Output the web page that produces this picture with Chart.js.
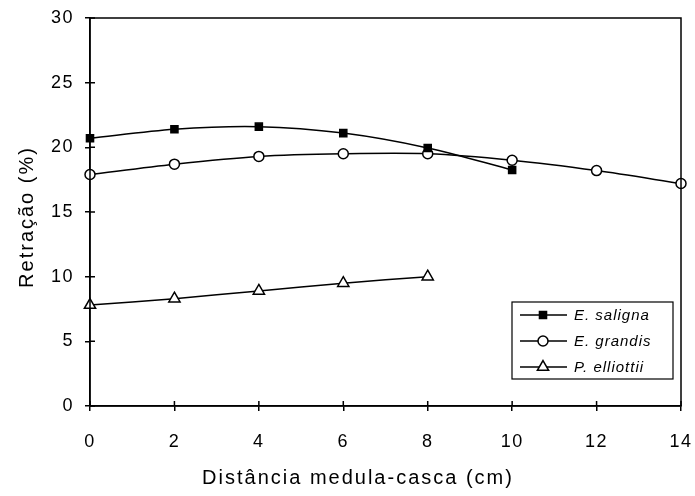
<!DOCTYPE html>
<html>
<head>
<meta charset="utf-8">
<script src="https://cdn.jsdelivr.net/npm/chart.js@4/dist/chart.umd.min.js"></script>
<style>
  html, body { margin: 0; padding: 0; background: #fff; }
  #wrap { width: 695px; height: 496px; }
</style>
</head>
<body>
<div id="wrap"><canvas id="myChart" width="695" height="496"></canvas></div>
<script>
// Data
const seriesNames = ['E. saligna', 'E. grandis', 'P. elliottii'];
const salignaX = [0, 2, 4, 6, 8, 10];
const salignaY = [20.7, 21.4, 21.6, 21.1, 19.95, 18.25];
const grandisX = [0, 2, 4, 6, 8, 10, 12, 14];
const grandisY = [17.9, 18.7, 19.3, 19.5, 19.5, 19.0, 18.2, 17.2];
const elliottiiX = [0, 2, 4, 6, 8];
const elliottiiY = [7.8, 8.3, 8.9, 9.5, 10.0];

const xTicks = [0, 2, 4, 6, 8, 10, 12, 14];
const yTicks = [0, 5, 10, 15, 20, 25, 30];
const xTitle = 'Distância medula-casca (cm)';
const yTitle = 'Retração (%)';

function toPoints(xs, ys) {
    return xs.map(function (x, i) { return { x: x, y: ys[i] }; });
}

const FONT = 'Arial, "Liberation Sans", sans-serif';

// inward tick marks, plot box, axis titles and the boxed legend
const framePlugin = {
    id: 'frame',
    beforeDraw: function (chart) {
        // the original text is a little spread out
        chart.ctx.letterSpacing = '1.5px';
    },
    afterDraw: function (chart) {
        const ctx = chart.ctx;
        const a = chart.chartArea;
        const xs = chart.scales.x;
        const ys = chart.scales.y;
        ctx.save();
        ctx.strokeStyle = '#000';
        ctx.lineWidth = 1.5;
        // box
        ctx.strokeRect(a.left, a.top, a.right - a.left, a.bottom - a.top);
        // inner ticks
        ctx.beginPath();
        xTicks.forEach(function (v) {
            const px = xs.getPixelForValue(v);
            ctx.moveTo(px, a.bottom);
            ctx.lineTo(px, a.bottom - 5);
        });
        yTicks.forEach(function (v) {
            const py = ys.getPixelForValue(v);
            ctx.moveTo(a.left, py);
            ctx.lineTo(a.left + 5, py);
        });
        ctx.stroke();

        // axis titles (centred on the whole figure like the original)
        ctx.fillStyle = '#000';
        ctx.font = '20px ' + FONT;
        ctx.letterSpacing = '2px';
        ctx.textAlign = 'center';
        ctx.textBaseline = 'middle';
        ctx.fillText(xTitle, 358, 478);
        ctx.save();
        ctx.translate(27, 217);
        ctx.rotate(-Math.PI / 2);
        ctx.fillText(yTitle, 0, 0);
        ctx.restore();

        // legend
        const lx = 512, ly = 302, lw = 161, lh = 77;
        ctx.fillStyle = '#fff';
        ctx.fillRect(lx, ly, lw, lh);
        ctx.lineWidth = 1.2;
        ctx.strokeRect(lx, ly, lw, lh);
        const rows = [315, 341, 367];
        chart.data.datasets.forEach(function (ds, i) {
            const y = rows[i];
            ctx.lineWidth = 1.5;
            ctx.strokeStyle = '#000';
            ctx.beginPath();
            ctx.moveTo(520, y);
            ctx.lineTo(567, y);
            ctx.stroke();
            ctx.fillStyle = ds.pointBackgroundColor;
            Chart.helpers.drawPoint(ctx, {
                pointStyle: ds.pointStyle,
                radius: ds.pointRadius,
                borderWidth: ds.pointBorderWidth
            }, 543, y);
            ctx.fillStyle = '#000';
            ctx.letterSpacing = '1px';
            ctx.font = 'italic 15px ' + FONT;
            ctx.textBaseline = 'middle';
            ctx.textAlign = 'left';
            ctx.fillText(ds.label, 574, y + 1);
        });
        ctx.restore();
    }
};

function makeSet(label, xs, ys, style, fill, radius) {
    return {
        label: label,
        data: toPoints(xs, ys),
        showLine: true,
        borderColor: '#000',
        borderWidth: 1.5,
        tension: 0.3,
        pointStyle: style,
        pointRadius: radius,
        pointHoverRadius: radius,
        pointBackgroundColor: fill,
        pointBorderColor: '#000',
        pointBorderWidth: 1.5,
        clip: false
    };
}

const ctx = document.getElementById('myChart').getContext('2d');
new Chart(ctx, {
    type: 'scatter',
    data: {
        datasets: [
            makeSet(seriesNames[0], salignaX, salignaY, 'rect', '#000', 5),
            makeSet(seriesNames[1], grandisX, grandisY, 'circle', '#fff', 5),
            makeSet(seriesNames[2], elliottiiX, elliottiiY, 'triangle', '#fff', 6.5)
        ]
    },
    options: {
        responsive: false,
        animation: false,
        layout: { padding: { top: 18, right: 14, left: 0, bottom: 0 } },
        plugins: {
            legend: { display: false },
            tooltip: { enabled: false }
        },
        scales: {
            x: {
                type: 'linear',
                min: 0,
                max: 14,
                afterBuildTicks: function (s) { s.ticks = xTicks.map(function (v) { return { value: v }; }); },
                afterFit: function (s) { s.height = 90; s.paddingLeft = 0; s.paddingRight = 0; },
                grid: { display: true, drawOnChartArea: false, tickLength: 5, color: '#000', lineWidth: 1.5 },
                border: { display: true, color: '#000', width: 1.5 },
                ticks: { color: '#000', font: { family: FONT, size: 18 }, padding: 20, maxRotation: 0 },
                title: { display: false }
            },
            y: {
                type: 'linear',
                min: 0,
                max: 30,
                afterBuildTicks: function (s) { s.ticks = yTicks.map(function (v) { return { value: v }; }); },
                afterFit: function (s) { s.width = 90; s.paddingTop = 0; s.paddingBottom = 0; },
                grid: { display: true, drawOnChartArea: false, tickLength: 5, color: '#000', lineWidth: 1.5 },
                border: { display: true, color: '#000', width: 1.5 },
                ticks: { color: '#000', font: { family: FONT, size: 18 }, padding: 11 },
                title: { display: false }
            }
        }
    },
    plugins: [framePlugin]
});
</script>
</body>
</html>
